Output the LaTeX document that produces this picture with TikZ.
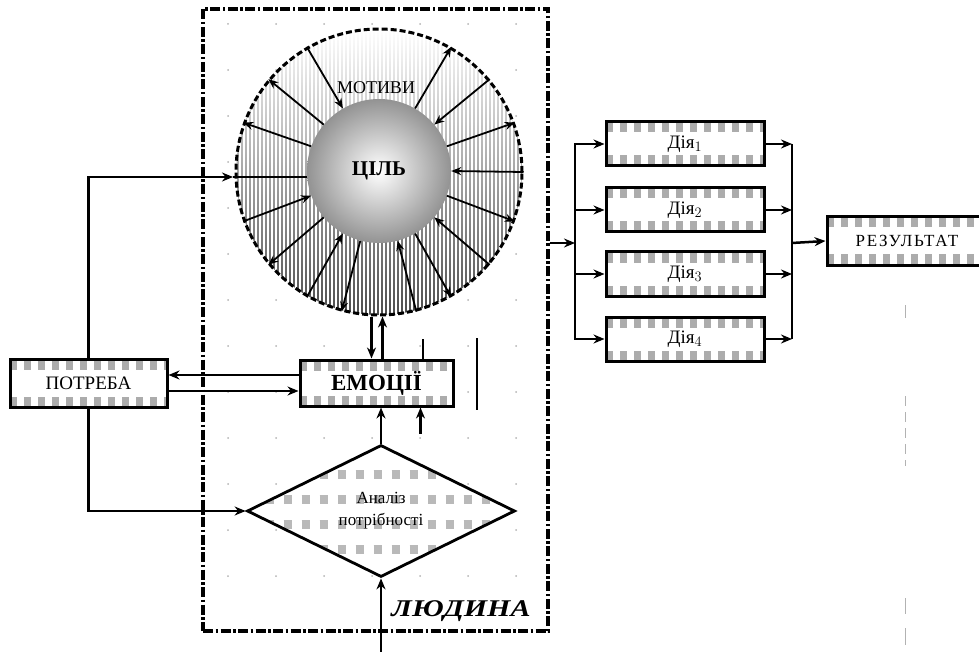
\documentclass[tikz,border=0pt]{standalone}
\usepackage{fontspec}
\setmainfont{Liberation Serif}
\usetikzlibrary{arrows.meta,shapes.geometric,calc}
\tikzset{
  arr/.style={-{Stealth[length=11pt,width=9pt]}, line width=2.5pt},
  spoke/.style={-{Stealth[length=10pt,width=8pt]}, line width=1.8pt},
  cbox/.style={draw, line width=3pt, fill=white, inner sep=0pt,
    path picture={
      \draw[gray!65, line width=9pt, dash pattern=on 7pt off 7pt]
        ([yshift=-6pt]path picture bounding box.north west) -- ([yshift=-6pt]path picture bounding box.north east);
      \draw[gray!65, line width=9pt, dash pattern=on 7pt off 7pt]
        ([yshift=6pt]path picture bounding box.south west) -- ([yshift=6pt]path picture bounding box.south east);
    }},
  dmd/.style={diamond, draw, line width=2.8pt, fill=white, inner sep=0pt, align=center,
    path picture={
      \foreach \s in {-38,-13,12,37}{
        \draw[gray!55, line width=9pt, dash pattern=on 8pt off 10pt]
          ([yshift=\s pt]path picture bounding box.west) -- ([yshift=\s pt]path picture bounding box.east);}
    }},
  frm/.style={draw, line width=3.4pt, dash pattern=on 10pt off 2.5pt on 2.5pt off 2.5pt, inner sep=0pt},
  dotg/.style={fill=gray!60}
}
\begin{document}
\begin{tikzpicture}[x=1pt,y=-1pt]
\useasboundingbox (0,0) rectangle (979,652);
\clip (0,0) rectangle (979,652);

% dot grid inside the frame
\foreach \x in {228,276,...,540}
  \foreach \y in {24,70,...,600}
    \fill[dotg] (\x,\y) circle (1pt);

% frame ЛЮДИНА
\node[frm, minimum width=345pt, minimum height=622pt] (ludyna) at (375.5,320) {};
\node[font=\fontsize{24}{26}\selectfont\bfseries\itshape] (ludlbl) at (461,611) {\scalebox{1.25}[1]{ЛЮДИНА}};

% ring background: gradient with vertical stripes
\begin{scope}
  \clip (379,172) circle (143pt);
  \shade[top color=white, bottom color=black!70] (236,29) rectangle (522,315);
  \foreach \x in {236,240,...,522}
    \draw[white, line width=1.8pt] (\x,29) -- (\x,315);
\end{scope}
\node[circle, minimum size=286pt, inner sep=0pt, draw, line width=3pt, dash pattern=on 6pt off 3pt] (ring) at (379,172) {};
\node[circle, minimum size=144pt, inner sep=0pt, inner color=white, outer color=gray!85] (tsil) at (379,171)
  {\fontsize{21}{23}\selectfont\bfseries ЦІЛЬ};
\node[font=\fontsize{18}{20}\selectfont] (motyvy) at (376,88) {МОТИВИ};

\foreach \a/\d in {0/1,20/0,40/1,60/0,120/1,140/0,160/0,200/1,220/0,240/1,255/0,285/1,300/0,320/1,340/0}{
  \ifnum\d=1
    \draw[spoke] (ring.\a) -- (tsil.\a);
  \else
    \draw[spoke] (tsil.\a) -- (ring.\a);
  \fi
}

% boxes
\node[cbox, minimum width=157pt, minimum height=48pt, font=\fontsize{19}{21}\selectfont] (potreba) at (88.5,383) {ПОТРЕБА};
\node[cbox, minimum width=153pt, minimum height=46pt, font=\fontsize{23}{25}\selectfont\bfseries] (emotsii) at (376.5,383) {ЕМОЦІЇ};
\node[dmd, minimum width=268pt, minimum height=132pt, font=\fontsize{17}{22}\selectfont] (analiz) at (381,511) {Аналіз\\потрібності};

\node[cbox, minimum width=158pt, minimum height=44pt, font=\fontsize{19}{21}\selectfont] (d1) at (685,144) {Дія$_1$};
\node[cbox, minimum width=158pt, minimum height=44pt, font=\fontsize{19}{21}\selectfont] (d2) at (685,210) {Дія$_2$};
\node[cbox, minimum width=158pt, minimum height=44pt, font=\fontsize{19}{21}\selectfont] (d3) at (685,274) {Дія$_3$};
\node[cbox, minimum width=158pt, minimum height=44pt, font=\fontsize{19}{21}\selectfont] (d4) at (685,339) {Дія$_4$};
\node[cbox, minimum width=160pt, minimum height=48pt, font=\fontsize{17}{19}\selectfont\addfontfeature{LetterSpace=10}] (rez) at (907,241) {РЕЗУЛЬТАТ};

% connectors: ПОТРЕБА
\coordinate (ringW) at (233,177);
\draw[arr] (potreba.north) |- (ringW);
\draw[line width=2.5pt] (ringW) -- (tsil.west |- ringW);
\draw[arr] (potreba.south) |- (analiz.west);
\draw[arr] ([yshift=8pt]emotsii.west) -- ([yshift=8pt]potreba.east);
\draw[arr] ([yshift=-8pt]potreba.east) -- ([yshift=-8pt]emotsii.west);

% ring <-> ЕМОЦІЇ
\coordinate (e1) at ([xshift=-5pt]emotsii.north);
\coordinate (e2) at ([xshift=6pt]emotsii.north);
\draw[arr] (ring.south -| e1) -- (e1);
\draw[arr] (e2) -- (ring.south -| e2);
\coordinate (e3) at ([xshift=46pt]emotsii.north);
\draw[line width=2pt] (e3) -- ++(0,-20);
\draw[line width=2pt] (477,338) -- (477,410);

% diamond -> ЕМОЦІЇ, extra input
\draw[arr] (analiz.north) -- (emotsii.south -| analiz.north);
\coordinate (e4) at ([xshift=44pt]emotsii.south);
\draw[arr] ([yshift=-26pt]e4) -- (e4);
\coordinate (inB) at (381,652);
\draw[arr] (inB) -- (analiz.south);

% to actions
\coordinate (fk) at (575,243);
\draw[arr] (ludyna.east |- fk) -- (fk);
\foreach \n in {d1,d2,d3,d4}
  \draw[arr] (fk) |- (\n.west);
\coordinate (mg) at (792,243);
\foreach \n in {d1,d2,d3,d4}{
  \draw[arr] (\n.east) -- (\n.east -| mg);
  \draw[line width=2.5pt] (\n.east -| mg) -- (mg);
}
\draw[arr] (mg) -- (rez.west);

% faint marks on the right
\draw[gray!60, line width=1pt] (905,305) -- (905,318);
\draw[gray!60, line width=1pt, dash pattern=on 10pt off 6pt] (905,396) -- (905,466);
\draw[gray!60, line width=1pt] (905,598) -- (905,614);
\draw[gray!60, line width=1pt] (905,628) -- (905,645);
\end{tikzpicture}
\end{document}
